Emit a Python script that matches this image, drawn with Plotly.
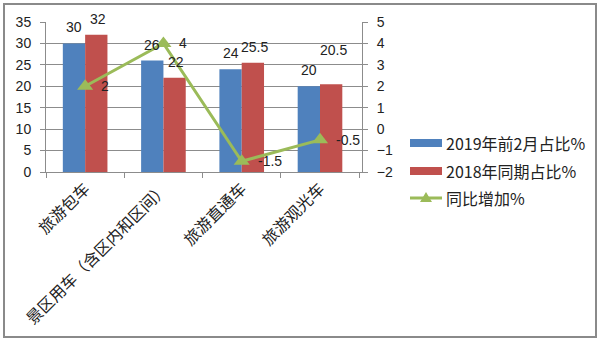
import plotly.graph_objects as go

categories = ["旅游包车", "景区用车（含区内和区间）", "旅游直通车", "旅游观光车"]
share_2019 = [30, 26, 24, 20]
share_2018 = [32, 22, 25.5, 20.5]
yoy_change = [2, 4, -1.5, -0.5]

name_2019 = "2019年前2月占比%"
name_2018 = "2018年同期占比%"
name_yoy = "同比增加%"

BLUE = "#4F81BD"
RED = "#C0504D"
GREEN = "#9BBB59"
GRID = "#8c8c8c"
NUM_FONT = dict(family="Liberation Sans, Arial, sans-serif", size=14, color="#222")
CJK_FONT = "Noto Sans CJK SC, sans-serif"

fig = go.Figure()
fig.add_trace(go.Bar(x=categories, y=share_2019, name=name_2019,
                     marker=dict(color=BLUE, line=dict(width=0))))
fig.add_trace(go.Bar(x=categories, y=share_2018, name=name_2018,
                     marker=dict(color=RED, line=dict(width=0))))
fig.add_trace(go.Scatter(x=categories, y=yoy_change, name=name_yoy, yaxis="y2",
                         mode="lines+markers",
                         line=dict(color=GREEN, width=3),
                         marker=dict(symbol="triangle-up", size=14, color=GREEN)))

# value labels for the growth line, placed to the right of each point
for i, v in enumerate(yoy_change):
    fig.add_annotation(x=categories[i], y=v, xref="x", yref="y2", text=f"{v:g}",
                       showarrow=False, xanchor="left", xshift=14, font=NUM_FONT)

# value labels above the bars
bar_shift = 11
extra_lift = {("2018", 3): 18}
for i, (a, b) in enumerate(zip(share_2019, share_2018)):
    fig.add_annotation(x=categories[i], y=a, xref="x", yref="y", text=f"{a:g}",
                       showarrow=False, xshift=-bar_shift, yshift=16 + extra_lift.get(("2019", i), 0),
                       font=NUM_FONT)
    fig.add_annotation(x=categories[i], y=b, xref="x", yref="y", text=f"{b:g}",
                       showarrow=False, xshift=bar_shift + 2, yshift=16 + extra_lift.get(("2018", i), 0),
                       font=NUM_FONT)

# hand-drawn legend with wide swatches
L, T, W, H = 46, 22, 316, 150
def px(xp):
    return (xp - L) / W
def py(yp):
    return 1 - (yp - T) / H

legend_rows = [(name_2019, BLUE, 143, "bar"), (name_2018, RED, 171, "bar"), (name_yoy, GREEN, 198, "line")]
for label, color, yc, kind in legend_rows:
    if kind == "bar":
        fig.add_shape(type="rect", xref="paper", yref="paper",
                      x0=px(410), x1=px(442), y0=py(yc + 4), y1=py(yc - 4),
                      fillcolor=color, line=dict(width=0))
    else:
        fig.add_shape(type="line", xref="paper", yref="paper",
                      x0=px(410), x1=px(442), y0=py(yc), y1=py(yc),
                      line=dict(color=color, width=3))
        fig.add_shape(type="path", xref="paper", yref="paper",
                      xsizemode="pixel", ysizemode="pixel",
                      xanchor=px(426), yanchor=py(198),
                      path="M -6 -4 L 6 -4 L 0 6 Z",
                      fillcolor=color, line=dict(width=0))
    fig.add_annotation(xref="paper", yref="paper", x=px(444), y=py(yc), text=label,
                       showarrow=False, xanchor="left", yanchor="middle",
                       font=dict(family=CJK_FONT, size=16, color="#222"))

# outer frame
fig.add_shape(type="rect", xref="paper", yref="paper",
              x0=px(4), x1=px(596), y0=py(337), y1=py(4),
              line=dict(color="#8a8a8a", width=2), fillcolor="rgba(0,0,0,0)")

fig.update_layout(
    width=600, height=341,
    margin=dict(l=L, r=600 - L - W, t=T, b=341 - T - H),
    paper_bgcolor="white", plot_bgcolor="white",
    barmode="group", bargap=0.43, bargroupgap=0,
    showlegend=False,
    xaxis=dict(tickangle=-45, showgrid=False, showline=True, linecolor=GRID, linewidth=1,
               ticks="outside", ticklen=5, tickcolor=GRID, tickson="boundaries",
               tickfont=dict(family=CJK_FONT, size=16, color="#222")),
    yaxis=dict(range=[0, 35], dtick=5, showgrid=True, gridcolor=GRID, gridwidth=1,
               showline=True, linecolor=GRID, ticks="outside", ticklen=5, tickcolor=GRID,
               zeroline=False, tickfont=NUM_FONT, ticklabelstandoff=6),
    yaxis2=dict(range=[-2, 5], dtick=1, overlaying="y", side="right", showgrid=False,
                showline=True, linecolor=GRID, ticks="outside", ticklen=5, tickcolor=GRID,
                zeroline=False, tickfont=NUM_FONT, ticklabelstandoff=6),
)

fig.write_html("out.html")
